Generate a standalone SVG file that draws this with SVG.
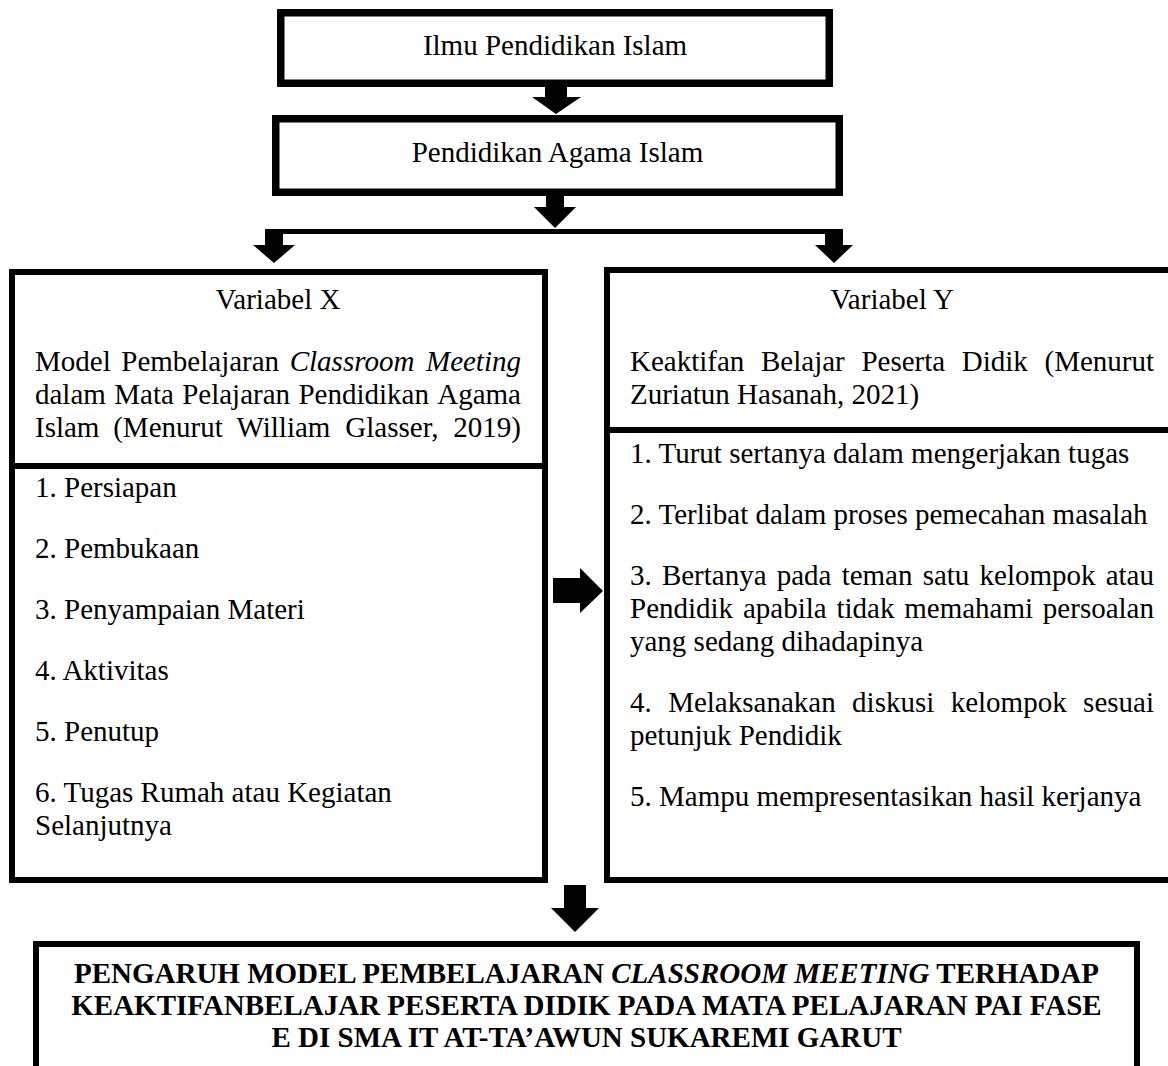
<svg xmlns="http://www.w3.org/2000/svg" width="1168" height="1066" viewBox="0 0 1168 1066">
<style>
.t{font-family:"Liberation Serif","Times New Roman",serif;font-size:29px;fill:#000}
.c{text-anchor:middle}
.i{font-style:italic}
.b{font-weight:bold}
.box{fill:#fff;stroke:#000}
.div{stroke:#000;stroke-width:6}
.arr{fill:#000;stroke:none}
</style>
<rect width="1168" height="1066" fill="#fff"/>
<g id="connectors">
<polygon class="arr" points="545,87 567,87 567,97 581,97 556,114 532,97 545,97"/>
<polygon class="arr" points="546,196 564,196 564,207 576,207 555,228 534,207 546,207"/>
<rect class="arr" x="265" y="229" width="578" height="5"/>
<polygon class="arr" points="265,229 283,229 283,245 295,245 274,263 253,245 265,245"/>
<polygon class="arr" points="825,229 843,229 843,245 853,245 834,263 815,245 825,245"/>
<polygon class="arr" points="553,578 580,578 580,568 603,591 580,613 580,603 553,603"/>
<polygon class="arr" points="564,885 586,885 586,908 599,908 575,932 551,908 564,908"/>
</g>
<g id="node-ilmu">
<rect class="box" x="280.75" y="12.75" width="548.5" height="70.5" stroke-width="7.5"/>
<text class="t c" x="555" y="55">Ilmu Pendidikan Islam</text>
</g>
<g id="node-pai">
<rect class="box" x="275.75" y="118.75" width="563.5" height="73.5" stroke-width="7.5"/>
<text class="t c" x="557.5" y="162">Pendidikan Agama Islam</text>
</g>
<g id="node-x">
<rect class="box" x="12" y="272" width="533" height="608" stroke-width="6"/>
<line class="div" x1="12" y1="466" x2="545" y2="466"/>
<text class="t c" x="278" y="309">Variabel X</text>
<text class="t" y="371"><tspan x="35">Model</tspan><tspan x="121.29">Pembelajaran</tspan><tspan class="i" x="289.71">Classroom</tspan><tspan class="i" x="425.97">Meeting</tspan></text>
<text class="t" y="404"><tspan x="35">dalam</tspan><tspan x="114.22">Mata</tspan><tspan x="182.16">Pelajaran</tspan><tspan x="298.41">Pendidikan</tspan><tspan x="437.25">Agama</tspan></text>
<text class="t" y="437"><tspan x="35">Islam</tspan><tspan x="113.21">(Menurut</tspan><tspan x="236.51">William</tspan><tspan x="345.34">Glasser,</tspan><tspan x="453.33">2019)</tspan></text>
<text class="t" x="35" y="497">1. Persiapan</text>
<text class="t" x="35" y="558">2. Pembukaan</text>
<text class="t" x="35" y="619">3. Penyampaian Materi</text>
<text class="t" x="35" y="680">4. Aktivitas</text>
<text class="t" x="35" y="741">5. Penutup</text>
<text class="t" x="35" y="802">6. Tugas Rumah atau Kegiatan</text>
<text class="t" x="35" y="835">Selanjutnya</text>
</g>
<g id="node-y">
<rect class="box" x="607" y="270" width="600" height="610" stroke-width="6"/>
<line class="div" x1="607" y1="430" x2="1168" y2="430"/>
<text class="t c" x="892" y="309">Variabel Y</text>
<text class="t" y="371"><tspan x="630">Keaktifan</tspan><tspan x="760.99">Belajar</tspan><tspan x="861.38">Peserta</tspan><tspan x="961.77">Didik</tspan><tspan x="1044.47">(Menurut</tspan></text>
<text class="t" x="630" y="404">Zuriatun Hasanah, 2021)</text>
<text class="t" x="630" y="463">1. Turut sertanya dalam mengerjakan tugas</text>
<text class="t" x="630" y="524">2. Terlibat dalam proses pemecahan masalah</text>
<text class="t" y="585"><tspan x="630">3.</tspan><tspan x="661.9">Bertanya</tspan><tspan x="776.74">pada</tspan><tspan x="841.64">teman</tspan><tspan x="922.67">satu</tspan><tspan x="979.54">kelompok</tspan><tspan x="1105.69">atau</tspan></text>
<text class="t" y="618"><tspan x="630">Pendidik</tspan><tspan x="742.9">apabila</tspan><tspan x="836.43">tidak</tspan><tspan x="904.21">memahami</tspan><tspan x="1042.87">persoalan</tspan></text>
<text class="t" x="630" y="651">yang sedang dihadapinya</text>
<text class="t" y="712"><tspan x="630">4.</tspan><tspan x="668.17">Melaksanakan</tspan><tspan x="852.09">diskusi</tspan><tspan x="950.7">kelompok</tspan><tspan x="1083.12">sesuai</tspan></text>
<text class="t" x="630" y="745">petunjuk Pendidik</text>
<text class="t" x="630" y="806">5. Mampu mempresentasikan hasil kerjanya</text>
</g>
<g id="node-judul">
<rect class="box" x="36" y="944" width="1101" height="200" stroke-width="6"/>
<text class="t b c" x="586.5" y="983">PENGARUH MODEL PEMBELAJARAN <tspan class="i">CLASSROOM MEETING</tspan> TERHADAP</text>
<text class="t b c" x="586.5" y="1015">KEAKTIFANBELAJAR PESERTA DIDIK PADA MATA PELAJARAN PAI FASE</text>
<text class="t b c" x="586.5" y="1047">E DI SMA IT AT-TA’AWUN SUKAREMI GARUT</text>
</g>
</svg>
